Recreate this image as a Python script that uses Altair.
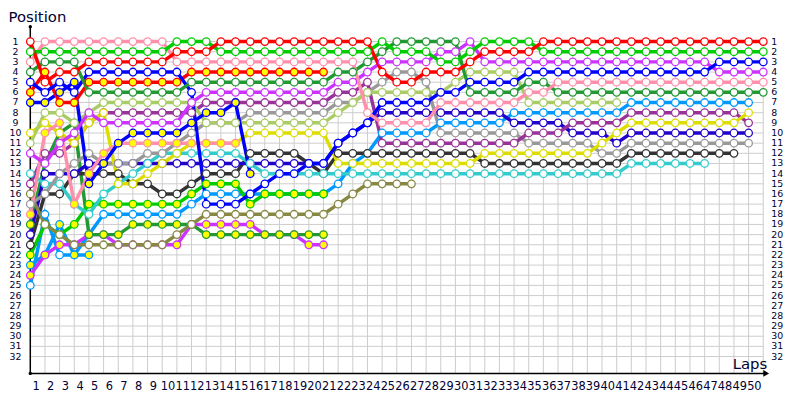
import altair as alt
import pandas as pd

# ---------------- data (positions per lap, lap 0 = grid) ----------------
lap_ticks = list(range(1, 51))
pos_ticks = list(range(1, 33))

RW = [1,5,4,4,3, 3,3,3,3,3, 2,2,2,1,1, 1,1,1,1,1, 1,1,1,1,4, 5,5,4,4,4, 3,2,2,2,2, 1,1,1,1,1, 1,1,1,1,1, 1,1,1,1,1, 1]
GW = [2,2,2,2,2, 2,2,2,2,2, 1,1,1,2,2, 2,2,2,2,2, 2,2,2,2,1, 2,2,2,3,3, 2,1,1,1,1, 2,2,2,2,2, 2,2,2,2,2, 2,2,2,2,2, 2]
PW = [3,1,1,1,1, 1,1,1,1,1, 3,3,3,3,3, 3,3,3,3,3, 3,3,3,8,9, 9,9,9,7,7, 7,7,7,7,6, 6,5,5,5,5, 5,5,5,5,5, 5,5,5,5,5, 5]
DGW = [4,3,3,3,6, 6,6,6,6,6, 6,5,5,5,5, 5,5,5,5,5, 5,4,4,3,2, 1,1,1,1,1, 6,6,6,6,5, 5,6,6,6,6, 6,6,6,6,6, 6,6,6,6,6, 6]
BW = [5,6,5,6,4, 4,4,4,4,4, 4,6,17,17,17, 16,15,14,14,13, 13,11,10,9,7, 7,7,7,6,6, 5,5,5,5,4, 4,4,4,4,4, 4,4,4,4,4, 4,4,3,3,3, 3]
MW = [12,13,11,10,8, 9,9,9,9,9, 9,7,6,6,6, 6,6,6,6,6, 6,5,5,4,3, 3,3,3,2,2, 1,3,3,3,3, 3,3,3,3,3, 3,3,3,3,3, 3,3,4,4,4, 4]
RY = [6,4,7,7,5, 5,5,5,5,5, 5,4,4,4,4, 4,4,4,4,4, 4]
BY = [7,7,6,5,15, 13,11,10,10,10, 10,9,8,8,7, 14]
LGW = [11,8,8,9,8, 7,7,7,7,7, 7,7,9,9,9, 9,9,9,9,9, 9,8,7,6,6, 6,6,6,6,5, 4,4,4,4,7, 7,7,7,7,7, 7]
YW = [10,9,10,11,9, 8,15,15,14,13, 12,11,11,11,11, 10,10,10,10,10, 10,13,13,13,13, 13,13,13,13,13, 13,12,12,12,12, 12,12,12,12,11, 10,9,9,9,9, 9,9,9,9,8]
PuW = [15,12,12,11,9, 8,8,8,8,8, 8,8,7,7,7, 7,7,7,7,7, 7,6,6,5,11, 11,11,11,11,11, 11,11,11,11,10, 10,10,9,9,9, 9,8,8,8,8, 8,8,8,8,9]
GrW = [17,16,14,13,12, 13,13,13,12,12, 11,10,9,9,9, 8,8,8,8,8, 8,7,7,6,5, 4,4,5,10,10, 10,10,10,10,11, 11,11,11,11,12, 12,11,11,11,11, 11,11,11,11,11]
CW = [14,15,15,17,18, 16,15,14,13,12, 12,12,12,12,12, 13,14,14,14,14, 14,14,14,14,14, 14,14,14,14,14, 14,14,14,14,14, 14,14,14,14,14, 14,13,13,13,13, 13,13]
OW = [16,19,20,21,21, 21,21,21,21,21, 20,19,18,18,18, 18,18,18,18,18, 18,17,16,15,15, 15,15]
DBW = [20,14,14,14,13, 13,13,13,13,13, 13,13,13,13,13, 13,13,13,13,13, 13,11,10,9,8, 8,8,8,8,8, 8,8,8,9,9, 9,9,10,10,10, 11,10,10,10,10, 10,10,10,10,10]
DkW = [21,16,16,14,14, 14,14,15,15,16, 16,15,14,14,14, 12,12,12,12,13, 14,12,12,12,12, 12,12,12,12,12, 12,13,13,13,13, 13,13,13,13,13, 13,12,12,12,12, 12,12,12,12]
GY = [22,19,20,19,17, 17,17,17,17,17, 17,16,15,15,15, 17,16,16,16,16, 16]
DGY = [19,13,10,9,20, 20,20,19,19,19, 19,19,20,20,20, 20,20,20,20,20, 20]
LBY = [23,22,19,22,22]
MY = [24,22,21,21,20, 20,21,21,21,21, 21,19,19,19,19, 19,20,20,20,21, 21]
LBW = [25,18,22,22,20, 18,18,18,18,18, 18,17,16,16,16, 16,16,16,16,16, 16,15,13,12,10, 10,10,10,9,9, 9,9,9,8,8, 8,8,8,8,8, 8,7,7,7,7, 7,7,7,7,7]
PY = [18,10,9,17,14, 12,11,11,11,11, 11,11,11,11,11]

series = [
    ("LBW", "#0099ff", "#ffffff", LBW),
    ("LBY", "#0099ff", "#ffff00", LBY),
    ("MY", "#cc33ff", "#ffff00", MY),
    ("DGY", "#229933", "#ffff00", DGY),
    ("GY", "#00cc00", "#ffff00", GY),
    ("DkW", "#333333", "#ffffff", DkW),
    ("DBW", "#2200cc", "#ffffff", DBW),
    ("OW", "#888844", "#ffffff", OW),
    ("CW", "#33cccc", "#ffffff", CW),
    ("GrW", "#999999", "#ffffff", GrW),
    ("PuW", "#993399", "#ffffff", PuW),
    ("YW", "#dddd00", "#ffffff", YW),
    ("LGW", "#aacc66", "#ffffff", LGW),
    ("PY", "#ff8fab", "#ffff00", PY),
    ("BY", "#0000ff", "#ffff00", BY),
    ("RY", "#ff0000", "#ffff00", RY),
    ("MW", "#cc33ff", "#ffffff", MW),
    ("BW", "#0000ff", "#ffffff", BW),
    ("DGW", "#229933", "#ffffff", DGW),
    ("PW", "#ff8fab", "#ffffff", PW),
    ("GW", "#00cc00", "#ffffff", GW),
    ("RW", "#ff0000", "#ffffff", RW),
]

rows = []
for k, (name, col, fill, vals) in enumerate(series):
    for lap, p in enumerate(vals):
        rows.append({"name": name, "k": k, "lap": lap, "pos": p, "color": col, "fill": fill})
df = pd.DataFrame(rows)

xs = alt.Scale(domain=[0, 50], nice=False, zero=False)
ys = alt.Scale(domain=[1, 32], reverse=True, nice=False, zero=False)
TXT = "#000033"
FONT = "DejaVu Sans"
AX_TOP = -0.46
AX_BOT = 33.66
AX_END = 50.2


def X(f):
    return alt.X(f, type="quantitative", scale=xs, axis=None)


def Y(f):
    return alt.Y(f, type="quantitative", scale=ys, axis=None)


vgrid = alt.Chart(pd.DataFrame({"lap": lap_ticks, "y1": [1] * 50, "y2": [AX_BOT] * 50})).mark_rule(
    color="#cccccc", strokeWidth=1).encode(x=X("lap"), y=Y("y1"), y2="y2")
hgrid = alt.Chart(pd.DataFrame({"pos": pos_ticks, "x1": [0] * 32, "x2": [50] * 32})).mark_rule(
    color="#cccccc", strokeWidth=1).encode(y=Y("pos"), x=X("x1"), x2="x2")

yaxis = alt.Chart(pd.DataFrame({"x": [0], "y1": [AX_TOP], "y2": [AX_BOT]})).mark_rule(
    color="#000000", strokeWidth=1.5).encode(x=X("x"), y=Y("y1"), y2="y2")
xaxis = alt.Chart(pd.DataFrame({"y": [AX_BOT], "x1": [0], "x2": [AX_END]})).mark_rule(
    color="#000000", strokeWidth=1.5).encode(y=Y("y"), x=X("x1"), x2="x2")
arrow = alt.Chart(pd.DataFrame({"x": [AX_END], "y": [AX_BOT]})).mark_point(
    shape="triangle-right", filled=True, color="#000000", size=45, opacity=1).encode(x=X("x"), y=Y("y"))
dots = alt.Chart(pd.DataFrame({"x": [0, 0], "y": [AX_TOP, AX_BOT]})).mark_point(
    shape="circle", filled=True, color="#000000", size=12, opacity=1).encode(x=X("x"), y=Y("y"))

lines = alt.Chart(df).mark_line(strokeWidth=3.5).encode(
    x=X("lap"), y=Y("pos"),
    stroke=alt.Stroke("color:N", scale=None),
    detail="name:N",
    order="lap:Q",
)
points = alt.Chart(df).mark_point(shape="circle", filled=True, size=58, strokeWidth=1.3, opacity=1).encode(
    x=X("lap"), y=Y("pos"),
    stroke=alt.Stroke("color:N", scale=None),
    fill=alt.Fill("fill:N", scale=None),
    detail="name:N",
)

ylab_l = alt.Chart(pd.DataFrame({"pos": pos_ticks})).mark_text(
    align="center", baseline="middle", font=FONT, fontSize=9.5, color=TXT).encode(
    y=Y("pos"), x=alt.value(-15), text="pos:Q")
ylab_r = alt.Chart(pd.DataFrame({"pos": pos_ticks})).mark_text(
    align="left", baseline="middle", font=FONT, fontSize=9.5, color=TXT).encode(
    y=Y("pos"), x=alt.value(748), text="pos:Q")
xlab = alt.Chart(pd.DataFrame({"lap": lap_ticks})).mark_text(
    align="center", baseline="middle", font=FONT, fontSize=11.5, color=TXT, dx=-9).encode(
    x=X("lap"), y=alt.value(349), text="lap:Q")
t_pos = alt.Chart(pd.DataFrame({"t": ["Position"]})).mark_text(
    align="left", baseline="middle", font=FONT, fontSize=15, color=TXT).encode(
    x=alt.value(-22), y=alt.value(-25), text="t:N")
t_laps = alt.Chart(pd.DataFrame({"t": ["Laps"]})).mark_text(
    align="right", baseline="alphabetic", font=FONT, fontSize=15, color=TXT).encode(
    x=alt.value(744), y=alt.value(331), text="t:N")

chart = alt.layer(
    vgrid, hgrid, yaxis, xaxis, arrow, dots, lines, points, ylab_l, ylab_r, xlab, t_pos, t_laps
).properties(
    width=740, height=318,
    autosize=alt.AutoSizeParams(type="none"),
    padding={"left": 22.5, "top": 32, "right": 29, "bottom": 42},
    background="#ffffff",
).configure_view(stroke=None)

chart.save("out.html", embed_options={"renderer": "svg", "actions": False})
